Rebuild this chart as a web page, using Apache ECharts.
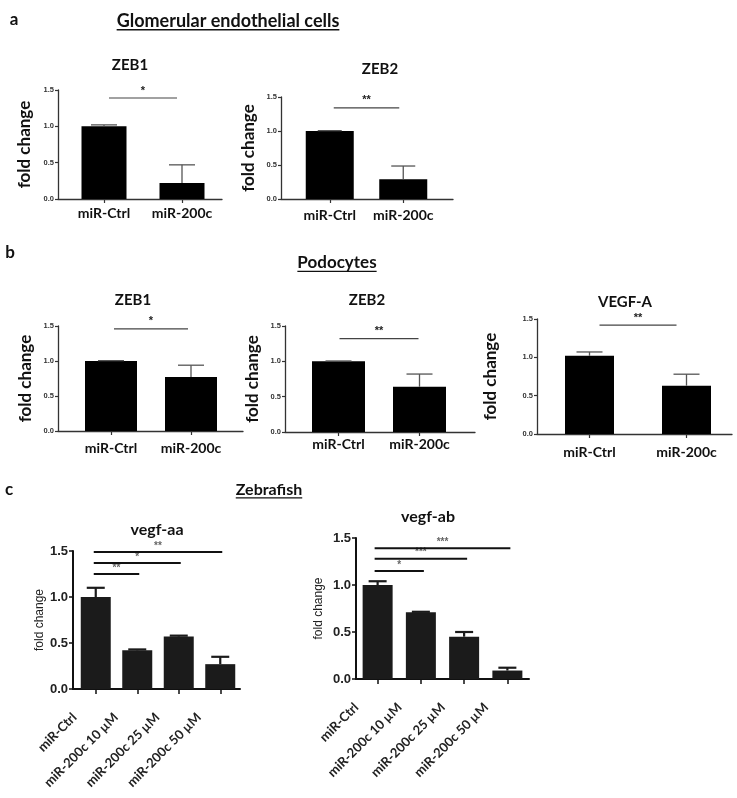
<!DOCTYPE html>
<html><head><meta charset="utf-8">
<script src="https://cdn.jsdelivr.net/npm/echarts@6/dist/echarts.min.js"></script>
<style>html,body{margin:0;padding:0;background:#fff}#c{width:737px;height:798px}</style>
</head><body><div id="c"></div>
<script>
// ---------- DATA ----------
const catsTwo = ['miR-Ctrl', 'miR-200c'];
const catsZebra = ['miR-Ctrl', 'miR-200c 10 µM', 'miR-200c 25 µM', 'miR-200c 50 µM'];

const gecZeb1Mean = [1.00, 0.22];
const gecZeb1Err  = [0.02, 0.25];
const gecZeb1Sig  = [[0, 1, 1.39, '*']];

const gecZeb2Mean = [1.00, 0.29];
const gecZeb2Err  = [0.005, 0.195];
const gecZeb2Sig  = [[0, 1, 1.34, '**']];

const podZeb1Mean = [1.00, 0.77];
const podZeb1Err  = [0.005, 0.17];
const podZeb1Sig  = [[0, 1, 1.46, '*']];

const podZeb2Mean = [1.00, 0.64];
const podZeb2Err  = [0.005, 0.18];
const podZeb2Sig  = [[0, 1, 1.32, '**']];

const podVegfaMean = [1.02, 0.63];
const podVegfaErr  = [0.05, 0.15];
const podVegfaSig  = [[0, 1, 1.42, '**']];

const zfVegfaaMean = [1.00, 0.42, 0.57, 0.27];
const zfVegfaaErr  = [0.10, 0.01, 0.01, 0.08];
const zfVegfaaSig  = [[0, 1, 1.25, '**'], [0, 2, 1.37, '*'], [0, 3, 1.49, '**']];

const zfVegfabMean = [1.00, 0.71, 0.45, 0.09];
const zfVegfabErr  = [0.04, 0.005, 0.05, 0.03];
const zfVegfabSig  = [[0, 1, 1.15, '*'], [0, 2, 1.28, '***'], [0, 3, 1.39, '***']];

const yMin = 0, yMax = 1.5, yStep = 0.5;

// ---------- LAYOUT ----------
const CAL = 'Lato';
const panels = [
  {cats: catsTwo, mean: gecZeb1Mean, err: gecZeb1Err, sig: gecZeb1Sig, title: 'ZEB1', style: 'ab',
   L: {axisX: 58, axisEnd: 222, gridL: 65, gridW: 156, top: 90, h: 109, barW: 45, tx: 130, ty: 65, nameGap: 25, labMargin: 7, inset: 5, cap: 13}},
  {cats: catsTwo, mean: gecZeb2Mean, err: gecZeb2Err, sig: gecZeb2Sig, title: 'ZEB2', style: 'ab',
   L: {axisX: 281, axisEnd: 453, gridL: 293, gridW: 147, top: 97, h: 102, barW: 48, tx: 380, ty: 69, nameGap: 24, labMargin: 9, inset: 4, cap: 12}},
  {cats: catsTwo, mean: podZeb1Mean, err: podZeb1Err, sig: podZeb1Sig, title: 'ZEB1', style: 'ab',
   L: {axisX: 58, axisEnd: 243, gridL: 71, gridW: 160, top: 326, h: 105, barW: 52, tx: 133, ty: 300, nameGap: 24, labMargin: 10, inset: 3, cap: 13}},
  {cats: catsTwo, mean: podZeb2Mean, err: podZeb2Err, sig: podZeb2Sig, title: 'ZEB2', style: 'ab',
   L: {axisX: 285, axisEnd: 475, gridL: 298, gridW: 162, top: 326, h: 106, barW: 53, tx: 367, ty: 300, nameGap: 24, labMargin: 5, inset: 1, cap: 13}},
  {cats: catsTwo, mean: podVegfaMean, err: podVegfaErr, sig: podVegfaSig, title: 'VEGF-A', style: 'ab',
   L: {axisX: 537, axisEnd: 732, gridL: 541, gridW: 194, top: 319, h: 115, barW: 49, tx: 625, ty: 302, nameGap: 38, labMargin: 11, inset: 10, cap: 13}},
  {cats: catsZebra, mean: zfVegfaaMean, err: zfVegfaaErr, sig: zfVegfaaSig, title: 'vegf-aa', style: 'c',
   L: {axisX: 73, axisEnd: 240, gridL: 75, gridW: 166, top: 551, h: 138, barW: 30, tx: 157, ty: 530, nameGap: 27, labMargin: 5, inset: -2, cap: 9}},
  {cats: catsZebra, mean: zfVegfabMean, err: zfVegfabErr, sig: zfVegfabSig, title: 'vegf-ab', style: 'c',
   L: {axisX: 356, axisEnd: 529, gridL: 356, gridW: 173, top: 538, h: 141, barW: 30, tx: 428, ty: 517, nameGap: 31, labMargin: 5, inset: -3, cap: 9}}
];

const grid = [], xAxis = [], yAxis = [], series = [], graphic = [];

panels.forEach((p) => {
  const L = p.L, ab = p.style === 'ab';
  const gi = grid.length;
  const axisCol = ab ? '#333' : '#111';
  const axisW = ab ? 1.3 : 2;
  grid.push({left: L.gridL, top: L.top, width: L.gridW, height: L.h});
  grid.push({left: L.axisX, top: L.top, width: L.axisEnd - L.axisX, height: L.h});

  xAxis.push({
    gridIndex: gi, type: 'category', data: p.cats,
    axisLine: {show: false},
    axisTick: {show: true, alignWithLabel: true, length: ab ? 4 : 5, lineStyle: {color: axisCol, width: ab ? 1.2 : 1.5}},
    axisLabel: ab ? {
      margin: L.labMargin, color: '#111', fontFamily: CAL, fontWeight: 'bold', fontSize: 14, interval: 0
    } : {
      margin: L.labMargin, rotate: 45, interval: 0, color: '#222', fontFamily: CAL, fontWeight: 'bold', fontSize: 13,
      padding: [0, 30, 0, 0]
    }
  });
  xAxis.push({
    gridIndex: gi + 1, type: 'value', min: 0, max: 1,
    axisLine: {show: true, onZero: false, lineStyle: {color: axisCol, width: axisW}},
    axisTick: {show: false}, axisLabel: {show: false}, splitLine: {show: false}
  });
  yAxis.push({
    gridIndex: gi, type: 'value', min: yMin, max: yMax, interval: yStep,
    offset: L.gridL - L.axisX,
    name: 'fold change', nameLocation: 'middle', nameGap: L.nameGap,
    nameTextStyle: ab ? {fontFamily: CAL, fontWeight: 'bold', fontSize: 17, color: '#111'}
                      : {fontFamily: 'Liberation Sans', fontWeight: 'normal', fontSize: 12, color: '#222'},
    axisLine: {show: true, onZero: false, lineStyle: {color: axisCol, width: axisW}},
    axisTick: {show: true, length: ab ? 3 : 4, lineStyle: {color: axisCol, width: ab ? 1.2 : 1.5}},
    axisLabel: ab ? {margin: 4, fontFamily: 'Liberation Sans', fontWeight: 'bold', fontSize: 7.5, color: '#333', formatter: v => v.toFixed(1)}
                  : {margin: 5, fontFamily: 'Liberation Sans', fontWeight: 'bold', fontSize: 13, color: '#222', formatter: v => v.toFixed(1)},
    splitLine: {show: false}
  });
  yAxis.push({gridIndex: gi + 1, type: 'value', show: false, min: 0, max: 1});

  series.push({
    type: 'bar', xAxisIndex: gi, yAxisIndex: gi, data: p.mean, barWidth: L.barW, silent: true,
    itemStyle: {color: ab ? '#000' : '#1b1b1b'}, z: 2
  });
  const errCol = ab ? '#555' : '#1b1b1b';
  const errW = ab ? 1.3 : 2.2;
  series.push({
    type: 'custom', xAxisIndex: gi, yAxisIndex: gi, silent: true, z: 3,
    data: p.mean.map((m, i) => [i, m, m + p.err[i]]),
    renderItem: (params, api) => {
      const a = api.coord([api.value(0), api.value(1)]);
      const b = api.coord([api.value(0), api.value(2)]);
      return {type: 'group', children: [
        {type: 'line', shape: {x1: a[0], y1: a[1], x2: b[0], y2: b[1]}, style: {stroke: errCol, lineWidth: errW}},
        {type: 'line', shape: {x1: b[0] - L.cap, y1: b[1], x2: b[0] + L.cap, y2: b[1]}, style: {stroke: errCol, lineWidth: errW}}
      ]};
    }
  });
  const sigArr = p.sig;
  series.push({
    type: 'custom', xAxisIndex: gi, yAxisIndex: gi, silent: true, z: 4,
    data: sigArr.map(s => [s[0], s[1], s[2]]),
    renderItem: (params, api) => {
      const a = api.coord([api.value(0), api.value(2)]);
      const b = api.coord([api.value(1), api.value(2)]);
      const x1 = a[0] + L.inset, x2 = b[0] - L.inset;
      const lbl = sigArr[params.dataIndex][3];
      return {type: 'group', children: [
        {type: 'line', shape: {x1: x1, y1: a[1], x2: x2, y2: a[1]}, style: {stroke: ab ? '#444' : '#111', lineWidth: ab ? 1.2 : 2}},
        {type: 'text', x: (x1 + x2) / 2, y: a[1] - (ab ? 2 : 1),
         style: {text: lbl, fill: ab ? '#222' : '#666', font: (ab ? 'bold 11px ' : 'bold 10px ') + '"Liberation Sans"', align: 'center', verticalAlign: 'bottom'}}
      ]};
    }
  });

  graphic.push({type: 'text', x: L.tx, y: L.ty, silent: true,
    style: {text: p.title, fill: '#111', font: 'bold ' + (ab ? 15 : 16) + 'px ' + CAL, align: 'center', verticalAlign: 'middle'}});
});

// section headers
const ctx = document.createElement('canvas').getContext('2d');
function header(text, cx, cy, size) {
  const font = 'bold ' + size + 'px ' + CAL;
  ctx.font = font;
  const w = ctx.measureText(text).width;
  graphic.push({type: 'text', x: cx, y: cy, silent: true, style: {text: text, fill: '#111', font: font, align: 'center', verticalAlign: 'middle'}});
  graphic.push({type: 'rect', silent: true, shape: {x: cx - w / 2, y: cy + size * 0.45, width: w, height: 1.4}, style: {fill: '#111'}});
}
header('Glomerular endothelial cells', 228, 21, 18);
header('Podocytes', 337, 263, 17);
header('Zebrafish', 269, 490, 16);
[['a', 14, 20], ['b', 10, 253], ['c', 9, 490]].forEach(t => {
  graphic.push({type: 'text', x: t[1], y: t[2], silent: true, style: {text: t[0], fill: '#111', font: 'bold 17px ' + CAL, align: 'center', verticalAlign: 'middle'}});
});

const chart = echarts.init(document.getElementById('c'), null, {renderer: 'canvas'});
chart.setOption({
  animation: false, backgroundColor: '#fff',
  grid, xAxis, yAxis, series, graphic
});
</script></body></html>
